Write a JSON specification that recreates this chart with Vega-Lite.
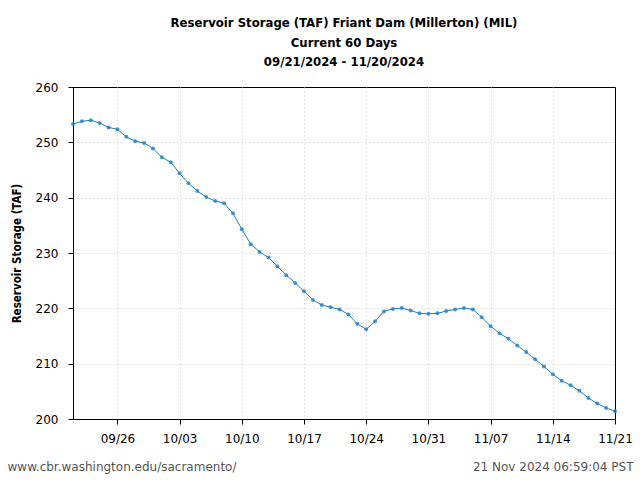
{
  "$schema": "https://vega.github.io/schema/vega-lite/v6.json",
  "width": 542,
  "height": 332,
  "autosize": "none",
  "padding": {"left": 73, "top": 87, "right": 25, "bottom": 61},
  "background": "white",
  "title": {
    "text": ["Reservoir Storage (TAF) Friant Dam (Millerton) (MIL)", "Current 60 Days", "09/21/2024 - 11/20/2024"],
    "font": "DejaVu Sans Condensed",
    "fontSize": 13,
    "fontWeight": "bold",
    "color": "black",
    "anchor": "middle",
    "frame": "group",
    "lineHeight": 19.5,
    "offset": 12
  },
  "config": {
    "view": {"stroke": "black", "strokeWidth": 1},
    "axis": {
      "labelFont": "DejaVu Sans",
      "labelFontSize": 12,
      "labelColor": "black",
      "domainColor": "black",
      "tickColor": "black",
      "tickSize": 5,
      "gridColor": "#c8c8c8",
      "gridDash": [1, 3],
      "gridWidth": 1
    }
  },
  "data": {
    "values": [
      {"date": "2024-09-21", "storage": 253.3},
      {"date": "2024-09-22", "storage": 253.8},
      {"date": "2024-09-23", "storage": 254.0},
      {"date": "2024-09-24", "storage": 253.5},
      {"date": "2024-09-25", "storage": 252.7},
      {"date": "2024-09-26", "storage": 252.35},
      {"date": "2024-09-27", "storage": 251.0},
      {"date": "2024-09-28", "storage": 250.2},
      {"date": "2024-09-29", "storage": 249.9},
      {"date": "2024-09-30", "storage": 248.9},
      {"date": "2024-10-01", "storage": 247.3},
      {"date": "2024-10-02", "storage": 246.4},
      {"date": "2024-10-03", "storage": 244.4},
      {"date": "2024-10-04", "storage": 242.6},
      {"date": "2024-10-05", "storage": 241.2},
      {"date": "2024-10-06", "storage": 240.1},
      {"date": "2024-10-07", "storage": 239.4},
      {"date": "2024-10-08", "storage": 239.0},
      {"date": "2024-10-09", "storage": 237.2},
      {"date": "2024-10-10", "storage": 234.3},
      {"date": "2024-10-11", "storage": 231.6},
      {"date": "2024-10-12", "storage": 230.2},
      {"date": "2024-10-13", "storage": 229.2},
      {"date": "2024-10-14", "storage": 227.6},
      {"date": "2024-10-15", "storage": 226.0},
      {"date": "2024-10-16", "storage": 224.6},
      {"date": "2024-10-17", "storage": 223.1},
      {"date": "2024-10-18", "storage": 221.5},
      {"date": "2024-10-19", "storage": 220.6},
      {"date": "2024-10-20", "storage": 220.2},
      {"date": "2024-10-21", "storage": 219.8},
      {"date": "2024-10-22", "storage": 218.9},
      {"date": "2024-10-23", "storage": 217.2},
      {"date": "2024-10-24", "storage": 216.2},
      {"date": "2024-10-25", "storage": 217.65},
      {"date": "2024-10-26", "storage": 219.45},
      {"date": "2024-10-27", "storage": 219.9},
      {"date": "2024-10-28", "storage": 220.05},
      {"date": "2024-10-29", "storage": 219.6},
      {"date": "2024-10-30", "storage": 219.1},
      {"date": "2024-10-31", "storage": 219.0},
      {"date": "2024-11-01", "storage": 219.1},
      {"date": "2024-11-02", "storage": 219.5},
      {"date": "2024-11-03", "storage": 219.8},
      {"date": "2024-11-04", "storage": 220.05},
      {"date": "2024-11-05", "storage": 219.8},
      {"date": "2024-11-06", "storage": 218.4},
      {"date": "2024-11-07", "storage": 216.75},
      {"date": "2024-11-08", "storage": 215.5},
      {"date": "2024-11-09", "storage": 214.5},
      {"date": "2024-11-10", "storage": 213.3},
      {"date": "2024-11-11", "storage": 212.1},
      {"date": "2024-11-12", "storage": 210.8},
      {"date": "2024-11-13", "storage": 209.5},
      {"date": "2024-11-14", "storage": 208.1},
      {"date": "2024-11-15", "storage": 206.9},
      {"date": "2024-11-16", "storage": 206.1},
      {"date": "2024-11-17", "storage": 205.1},
      {"date": "2024-11-18", "storage": 203.8},
      {"date": "2024-11-19", "storage": 202.8},
      {"date": "2024-11-20", "storage": 202.0},
      {"date": "2024-11-21", "storage": 201.4}
    ]
  },
  "encoding": {
    "x": {
      "field": "date",
      "type": "temporal",
      "scale": {
        "type": "utc",
        "domain": [
          {"year": 2024, "month": 9, "date": 21, "utc": true},
          {"year": 2024, "month": 11, "date": 21, "utc": true}
        ],
        "nice": false
      }
    },
    "y": {
      "field": "storage",
      "type": "quantitative",
      "scale": {"domain": [200, 260], "nice": false, "zero": false},
      "axis": {
        "values": [200, 210, 220, 230, 240, 250, 260],
        "gridOpacity": {"condition": {"test": "datum.value <= 200 || datum.value >= 260", "value": 0}, "value": 1},
        "title": "Reservoir Storage (TAF)",
        "titleFont": "DejaVu Sans Condensed",
        "titleFontSize": 11.5,
        "titleFontWeight": "bold",
        "titleColor": "black",
        "titlePadding": 13,
        "labelPadding": 10
      }
    }
  },
  "resolve": {"axis": {"x": "independent"}},
  "layer": [
    {
      "mark": {"type": "line", "color": "#1f7fc4", "strokeWidth": 1},
      "encoding": {
        "x": {
          "field": "date",
          "type": "temporal",
          "axis": {
            "orient": "bottom",
            "format": "%m/%d",
            "values": [
              {"year": 2024, "month": 9, "date": 26, "utc": true},
              {"year": 2024, "month": 10, "date": 3, "utc": true},
              {"year": 2024, "month": 10, "date": 10, "utc": true},
              {"year": 2024, "month": 10, "date": 17, "utc": true},
              {"year": 2024, "month": 10, "date": 24, "utc": true},
              {"year": 2024, "month": 10, "date": 31, "utc": true},
              {"year": 2024, "month": 11, "date": 7, "utc": true},
              {"year": 2024, "month": 11, "date": 14, "utc": true},
              {"year": 2024, "month": 11, "date": 21, "utc": true}
            ],
            "labelFlush": false,
            "labelOverlap": false,
            "gridOpacity": {"condition": {"test": "datum.value > 1732000000000", "value": 0}, "value": 1},
            "labelPadding": 9,
            "title": "www.cbr.washington.edu/sacramento/",
            "titleFont": "DejaVu Sans",
            "titleFontSize": 12,
            "titleFontWeight": "normal",
            "titleColor": "#555555",
            "titleAnchor": "start",
            "titleAlign": "left",
            "titleBaseline": "middle",
            "titleX": -66,
            "titleY": 47
          }
        }
      }
    },
    {
      "mark": {"type": "point", "filled": true, "size": 16, "color": "#1f7fc4", "opacity": 0.8},
      "encoding": {
        "x": {
          "field": "date",
          "type": "temporal",
          "axis": {
            "orient": "top",
            "labels": false,
            "ticks": false,
            "domain": false,
            "grid": false,
            "title": "21 Nov 2024 06:59:04 PST",
            "titleFont": "DejaVu Sans",
            "titleFontSize": 12,
            "titleFontWeight": "normal",
            "titleColor": "#555555",
            "titleAnchor": "end",
            "titleAlign": "right",
            "titleBaseline": "middle",
            "titleX": 560,
            "titleY": 379
          }
        }
      }
    }
  ]
}
